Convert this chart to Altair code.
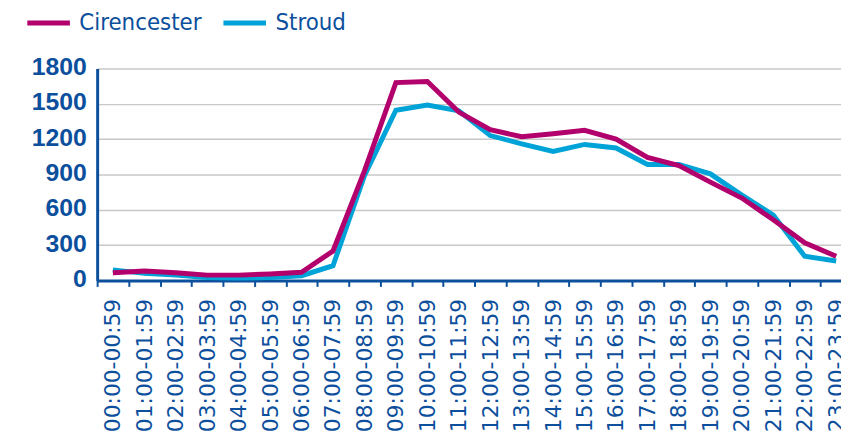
import altair as alt
import pandas as pd

slots = [
    "00:00-00:59", "01:00-01:59", "02:00-02:59", "03:00-03:59", "04:00-04:59",
    "05:00-05:59", "06:00-06:59", "07:00-07:59", "08:00-08:59", "09:00-09:59",
    "10:00-10:59", "11:00-11:59", "12:00-12:59", "13:00-13:59", "14:00-14:59",
    "15:00-15:59", "16:00-16:59", "17:00-17:59", "18:00-18:59", "19:00-19:59",
    "20:00-20:59", "21:00-21:59", "22:00-22:59", "23:00-23:59",
]
cirencester = [65, 80, 65, 45, 45, 55, 70, 250, 930, 1680, 1690, 1430, 1280, 1220,
               1245, 1275, 1200, 1045, 975, 835, 700, 515, 320, 205]
stroud = [90, 60, 45, 25, 20, 25, 40, 125, 890, 1445, 1490, 1440, 1230, 1160,
          1095, 1155, 1125, 985, 985, 905, 725, 555, 205, 165]
series_names = ["Cirencester", "Stroud"]
y_ticks = [0, 300, 600, 900, 1200, 1500, 1800]

MAGENTA = "#b2006d"
CYAN = "#00a3d7"
BLUE = "#0c4f9c"
GRID = "#c8c8c8"

df = pd.DataFrame({
    "slot": slots * 2,
    "series": ["Cirencester"] * len(slots) + ["Stroud"] * len(slots),
    "value": cirencester + stroud,
})

x_enc = alt.X(
    "slot:N",
    sort=slots,
    scale=alt.Scale(type="band", paddingInner=0, paddingOuter=0),
    axis=alt.Axis(
        title=None,
        labelAngle=270,
        labelAlign="right",
        labelBaseline="middle",
        labelFont="DejaVu Sans",
        labelFontSize=22,
        labelColor=BLUE,
        labelPadding=12,
        labelOverlap=False,
        labelBound=False,
        labelFlush=False,
        tickBand="extent",
        ticks=True,
        tickSize=6,
        tickWidth=2,
        tickColor=BLUE,
        domainColor=BLUE,
        domainWidth=3,
        grid=False,
    ),
)
y_enc = alt.Y(
    "value:Q",
    scale=alt.Scale(domain=[0, 1800], nice=False),
    axis=alt.Axis(
        title=None,
        values=y_ticks,
        format="d",
        ticks=False,
        labelFont="Liberation Sans",
        labelFontWeight="bold",
        labelFontSize=25,
        labelColor=BLUE,
        labelPadding=11,
        labelOffset=-2,
        domainColor=BLUE,
        domainWidth=3,
        grid=True,
        gridColor=GRID,
        gridWidth=1.5,
    ),
)
color_enc = alt.Color(
    "series:N",
    scale=alt.Scale(domain=series_names, range=[MAGENTA, CYAN]),
    legend=alt.Legend(
        title=None,
        orient="none",
        legendX=-73,
        legendY=-70,
        direction="horizontal",
        symbolType="stroke",
        symbolSize=1849,
        symbolStrokeWidth=5,
        labelFont="DejaVu Sans Condensed",
        labelFontSize=24,
        labelColor=BLUE,
        labelOffset=7,
        columnPadding=11,
    ),
)

base = alt.Chart(df).mark_line(strokeWidth=5, strokeJoin="miter").encode(
    x=x_enc, y=y_enc, color=color_enc
)
stroud_line = base.transform_filter(alt.datum.series == "Stroud")
cir_line = base.transform_filter(alt.datum.series == "Cirencester")

chart = (
    alt.layer(stroud_line, cir_line)
    .properties(
        width=762,
        height=214,
        padding={"left": 90, "top": 59, "right": -11, "bottom": 156},
        autosize=alt.AutoSizeParams(type="none"),
        background="white",
    )
    .configure_view(stroke=None)
)

chart.save("out.html", embed_options={"renderer": "svg", "actions": False})
